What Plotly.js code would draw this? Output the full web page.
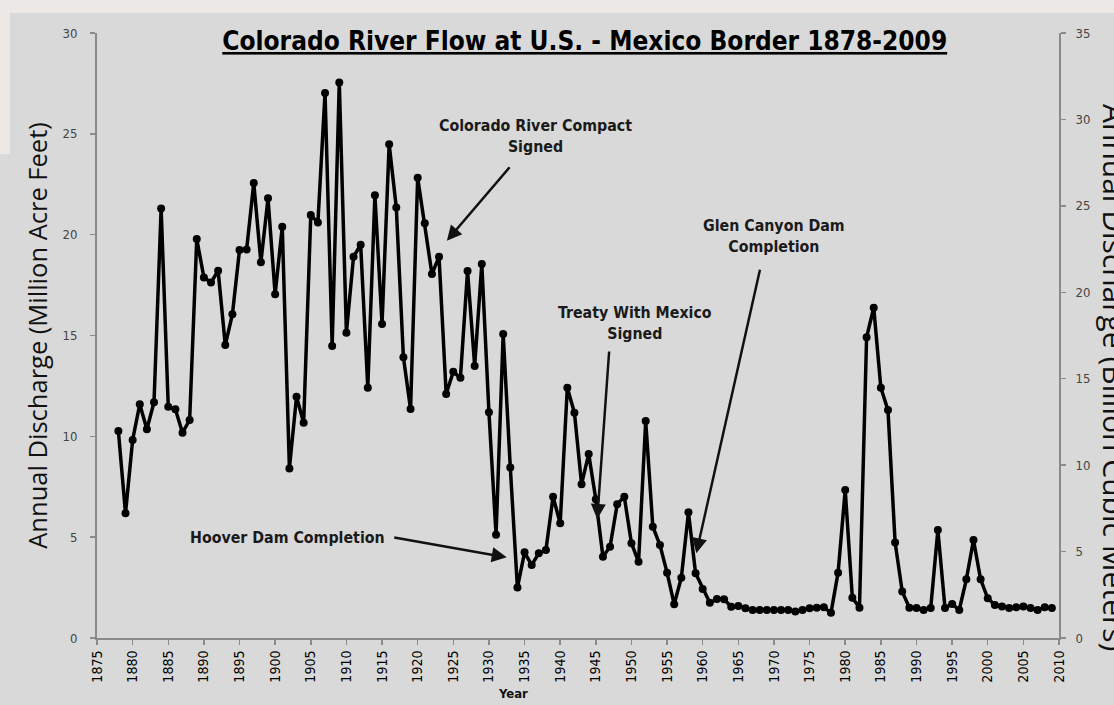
<!DOCTYPE html>
<html>
<head>
<meta charset="utf-8">
<script src="https://cdn.plot.ly/plotly-3.0.1.min.js"></script>
<style>
html,body{margin:0;padding:0;background:#d9d9d9;}
#chart{width:1114px;height:705px;}
</style>
</head>
<body>
<div id="chart"></div>
<script>
// Year of each observation
const years = [1878,1879,1880,1881,1882,1883,1884,1885,1886,1887,1888,1889,1890,1891,1892,1893,1894,1895,1896,1897,1898,1899,
1900,1901,1902,1903,1904,1905,1906,1907,1908,1909,1910,1911,1912,1913,1914,1915,1916,1917,1918,1919,
1920,1921,1922,1923,1924,1925,1926,1927,1928,1929,1930,1931,1932,1933,1934,1935,1936,1937,1938,1939,
1940,1941,1942,1943,1944,1945,1946,1947,1948,1949,1950,1951,1952,1953,1954,1955,1956,1957,1958,1959,
1960,1961,1962,1963,1964,1965,1966,1967,1968,1969,1970,1971,1972,1973,1974,1975,1976,1977,1978,1979,
1980,1981,1982,1983,1984,1985,1986,1987,1988,1989,1990,1991,1992,1993,1994,1995,1996,1997,1998,1999,
2000,2001,2002,2003,2004,2005,2006,2007,2008,2009];
// Annual discharge, million acre feet
const discharge = [10.26,6.18,9.82,11.59,10.35,11.69,21.3,11.47,11.34,10.18,10.81,19.78,17.88,17.63,18.21,14.53,16.05,19.24,19.27,22.56,18.63,21.8,
17.04,20.39,8.41,11.96,10.67,20.97,20.6,27.02,14.48,27.55,15.14,18.9,19.5,12.41,21.96,15.57,24.48,21.35,13.92,11.35,
22.82,20.56,18.05,18.9,12.1,13.2,12.9,18.2,13.49,18.54,11.2,5.12,15.07,8.46,2.5,4.25,3.62,4.2,4.36,7.0,
5.69,12.41,11.17,7.63,9.12,6.88,4.03,4.53,6.63,7.0,4.7,3.78,10.76,5.52,4.61,3.24,1.67,2.99,6.23,3.21,
2.43,1.75,1.93,1.92,1.55,1.59,1.47,1.39,1.39,1.39,1.39,1.39,1.39,1.31,1.39,1.47,1.5,1.52,1.25,3.24,
7.34,2.0,1.5,14.91,16.38,12.41,11.3,4.74,2.3,1.5,1.49,1.39,1.49,5.35,1.49,1.69,1.39,2.91,4.86,2.91,
1.97,1.64,1.56,1.49,1.52,1.56,1.49,1.39,1.52,1.49];

// Annotated events: label, year & value the arrow points at
const eventLabels = ["Colorado River Compact<br>Signed","Hoover Dam Completion","Treaty With Mexico<br>Signed","Glen Canyon Dam<br>Completion"];
const eventYears = [1924.1, 1932.5, 1945.2, 1959.1];
const eventValues = [19.7, 4.0, 5.9, 4.2];

const NARROW = "'DejaVu Sans Condensed', 'Liberation Sans', sans-serif";
const SANS = "'Open Sans', 'Liberation Sans', sans-serif";

const traces = [
  {
    x: years, y: discharge, type: 'scatter', mode: 'lines+markers',
    line: {color: '#000000', width: 3.5},
    marker: {color: '#000000', size: 8, symbol: 'circle'},
    hoverinfo: 'x+y', showlegend: false
  },
  { x: [], y: [], yaxis: 'y2', type: 'scatter', mode: 'lines', showlegend: false, hoverinfo: 'skip' }
];

// label box positions (data coords) and arrow tail offsets (px)
const textPos = [
  {x: 1936.5, y: 24.9},
  {x: 1901.8, y: 4.97},
  {x: 1950.5, y: 15.6},
  {x: 1970.0, y: 19.93}
];
const arrowTail = [[64,-75],[-114,-20],[12,-169],[64,-285]];

const annotations = [];
for (let i = 0; i < eventLabels.length; i++) {
  annotations.push({
    x: textPos[i].x, y: textPos[i].y, xref: 'x', yref: 'y',
    text: '<b>' + eventLabels[i] + '</b>', showarrow: false,
    font: {family: NARROW, size: 15.8, color: '#1a1a1a'}, align: 'center'
  });
  annotations.push({
    x: eventYears[i], y: eventValues[i], xref: 'x', yref: 'y',
    text: '', showarrow: true, ax: arrowTail[i][0], ay: arrowTail[i][1],
    arrowhead: 2, arrowsize: 1.2, arrowwidth: 2.5, arrowcolor: '#111111'
  });
}
annotations.push({
  xref: 'paper', yref: 'paper', x: 1.057, y: 0.43, textangle: 90,
  text: 'Annual Discharge (Billion Cubic Meters)', showarrow: false,
  font: {family: SANS, size: 30, color: '#111111'}, xanchor: 'center', yanchor: 'middle'
});
annotations.push({
  xref: 'paper', yref: 'paper', x: 0.432, y: -0.092, yanchor: 'middle', xanchor: 'center',
  text: '<b>Year</b>', showarrow: false,
  font: {family: NARROW, size: 13, color: '#111111'}
});

const layout = {
  width: 1114, height: 705,
  margin: {l: 97, r: 55, t: 33, b: 67},
  paper_bgcolor: '#d9d9d9', plot_bgcolor: '#d9d9d9',
  title: {
    text: '<b><u>Colorado River Flow at U.S. - Mexico Border 1878-2009</u></b>',
    x: 0.507, xanchor: 'center', y: 0.942, yanchor: 'middle', xref: 'paper',
    font: {family: NARROW, size: 26, color: '#000000'}
  },
  xaxis: {
    range: [1875, 2010], tick0: 1875, dtick: 5, tickangle: -90,
    showgrid: false, zeroline: false, showline: true, linecolor: '#8a8a8a', linewidth: 2,
    ticks: 'outside', ticklen: 5, tickwidth: 1.5, tickcolor: '#8a8a8a',
    tickfont: {family: NARROW, size: 14, color: '#000000'},
    fixedrange: true
  },
  yaxis: {
    range: [0, 30], dtick: 5, showgrid: false, zeroline: false,
    showline: true, linecolor: '#8a8a8a', linewidth: 2,
    ticks: 'outside', ticklen: 5, tickwidth: 1.5, tickcolor: '#8a8a8a',
    ticklabelstandoff: 10,
    tickfont: {family: NARROW, size: 13, color: '#444444'},
    title: {text: 'Annual Discharge (Million Acre Feet)', font: {family: SANS, size: 25.5, color: '#111111'}, standoff: 8}
  },
  yaxis2: {
    range: [0, 35], dtick: 5, overlaying: 'y', side: 'right', showgrid: false, zeroline: false,
    showline: true, linecolor: '#8a8a8a', linewidth: 2,
    ticks: 'outside', ticklen: 5, tickwidth: 1.5, tickcolor: '#8a8a8a',
    ticklabelstandoff: 7,
    tickfont: {family: NARROW, size: 13, color: '#444444'}
  },
  shapes: [
    {type: 'rect', xref: 'paper', yref: 'paper', x0: -0.11, x1: 1.06, y0: 1.033, y1: 1.06,
     fillcolor: '#ebe8e5', line: {width: 0}, layer: 'below'},
    {type: 'rect', xref: 'paper', yref: 'paper', x0: -0.11, x1: -0.0905, y0: 0.8, y1: 1.06,
     fillcolor: '#ebe8e5', line: {width: 0}, layer: 'below'}
  ],
  annotations: annotations,
  showlegend: false
};

Plotly.newPlot('chart', traces, layout, {displayModeBar: false, staticPlot: true});
</script>
</body>
</html>
